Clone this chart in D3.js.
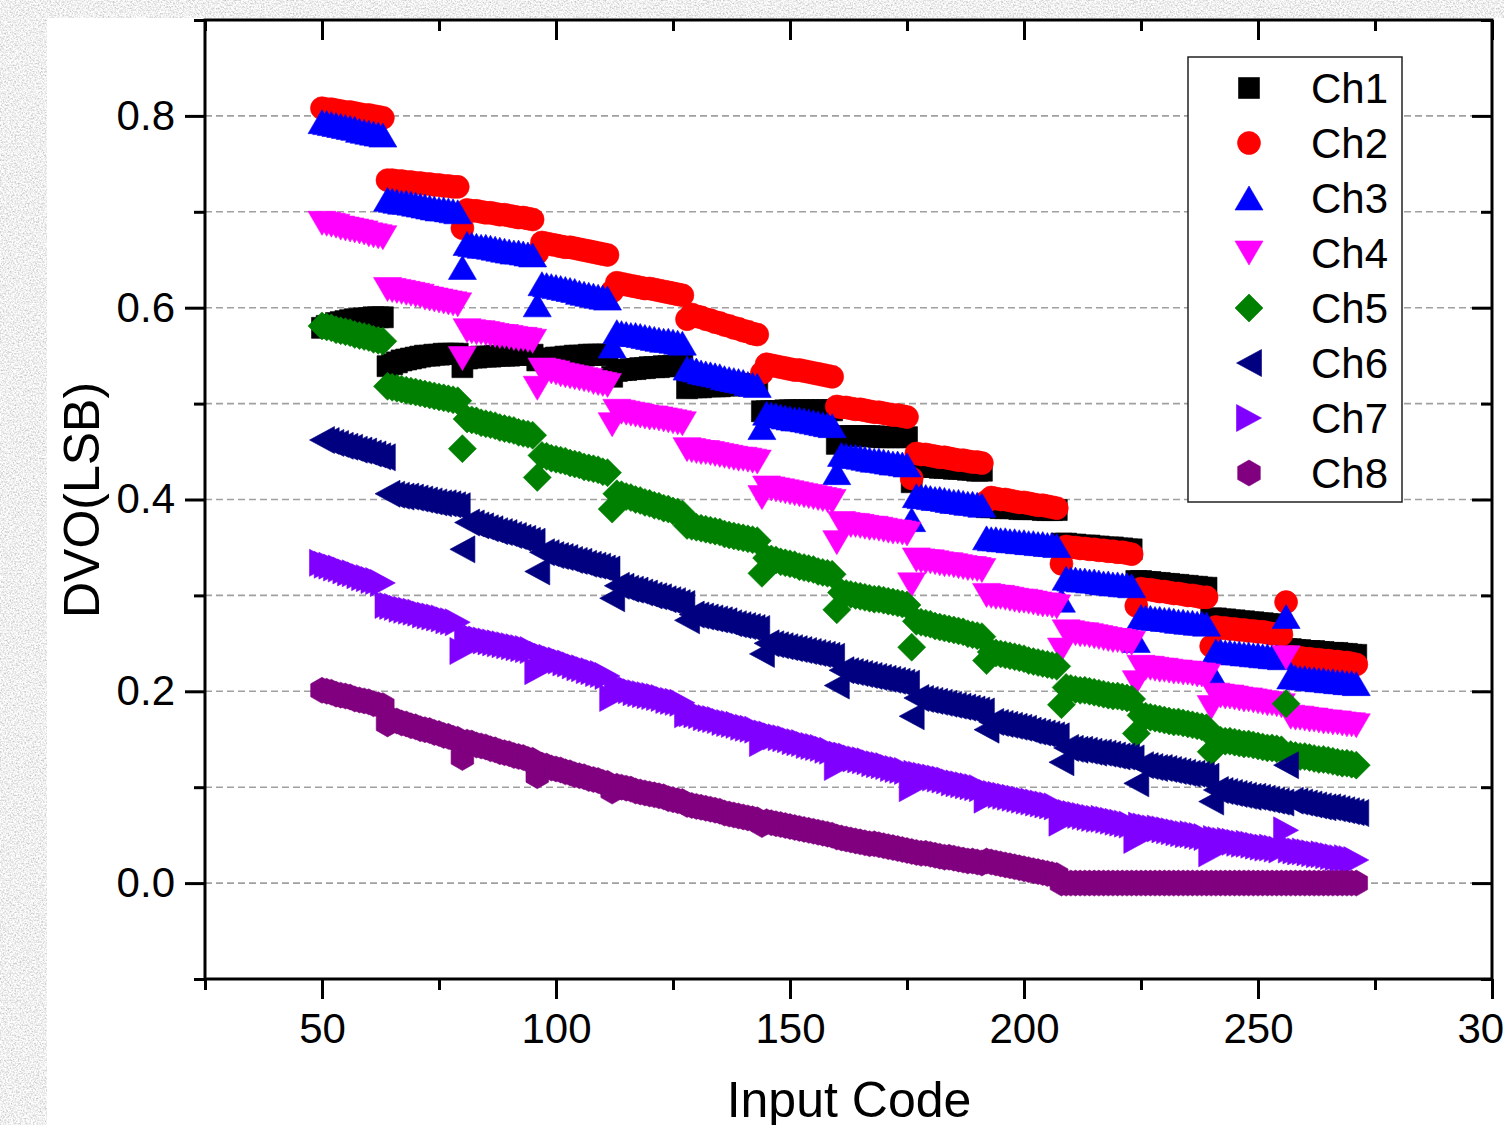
<!DOCTYPE html>
<html>
<head>
<meta charset="utf-8">
<script src="https://cdn.jsdelivr.net/npm/d3@7"></script>
<style>
  html, body { margin: 0; padding: 0; overflow: hidden; background: #fff; }
  svg { display: block; }
  text { font-family: "Liberation Sans", Arial, sans-serif; fill: #000; }
</style>
</head>
<body>
<div id="chart"></div>
<script>
// Input codes on the x axis (one point per code)
const inputCodes = d3.range(50, 272);

// DVO, in thousandths of an LSB.
// First line = codes 50..63, then one line per 16-code segment (64..79, 80..95, ...)
const ch1 = [
  579,581,582,584,585,586,587,588,588,589,589,590,590,590,
  539,541,543,545,546,547,548,549,550,550,551,551,552,552,552,552,
  538,547,548,548,549,549,549,550,550,550,550,551,551,551,551,551,
  545,546,547,547,548,548,549,549,550,550,550,551,551,551,551,551,
  528,534,535,535,536,536,537,537,538,538,538,539,539,539,540,540,
  516,517,517,517,518,518,518,518,519,519,519,519,520,520,520,520,
  492,492,492,492,492,493,493,493,493,493,493,493,493,493,493,493,
  458,466,466,466,466,466,466,466,466,465,465,465,465,465,465,465,
  418,435,435,434,434,434,433,433,433,432,432,432,431,431,430,430,
  392,392,392,391,391,391,391,390,390,390,390,390,389,389,389,389,
  354,354,353,353,352,352,352,351,351,350,350,350,349,349,348,348,
  315,315,314,314,313,313,312,312,311,311,310,310,309,309,308,308,
  276,276,275,275,274,274,273,273,272,272,271,271,270,270,269,269,
  244,244,243,243,242,242,242,241,241,240,240,240,239,239,238,238
];
const ch2 = [
  808,807,807,806,805,804,804,803,802,801,801,800,799,798,
  733,733,732,732,731,731,730,730,729,729,728,728,727,727,726,726,
  683,702,701,701,700,699,699,698,697,697,696,695,694,694,693,692,
  657,668,667,666,665,664,663,663,662,661,660,659,658,657,656,655,
  617,626,625,624,623,622,621,620,620,619,618,617,616,615,614,613,
  588,593,591,590,588,587,585,584,582,581,579,578,576,575,573,572,
  532,541,540,539,538,537,536,535,535,534,533,532,531,530,529,528,
  497,496,496,495,494,494,493,492,491,491,490,489,488,488,487,486,
  422,448,447,447,446,445,444,444,443,442,441,441,440,439,439,438,
  398,402,401,400,400,399,398,397,397,396,395,394,394,393,392,391,
  333,351,350,350,349,349,348,348,347,347,346,346,345,345,344,343,
  289,307,306,306,305,304,304,303,302,302,301,300,300,299,298,298,
  247,267,266,266,265,265,264,264,263,263,262,262,261,260,260,259,
  293,236,235,235,234,234,233,233,232,232,231,231,230,230,229,228
];
const ch3 = [
  794,793,792,791,790,789,788,787,785,784,783,782,781,780,
  713,712,711,710,710,709,708,707,706,705,704,703,703,702,701,700,
  642,667,666,665,664,664,663,662,661,660,659,658,658,657,656,655,
  603,625,624,623,622,621,620,619,618,616,615,614,613,612,611,610,
  560,575,574,573,572,572,571,570,569,568,567,566,566,565,564,563,
  537,536,535,533,532,531,530,529,527,526,525,524,523,521,520,519,
  475,490,489,488,487,486,485,484,484,483,482,481,480,479,478,477,
  428,447,446,445,445,444,443,442,441,441,440,439,438,438,437,436,
  379,404,403,403,402,401,401,400,399,398,398,397,396,396,395,394,
  360,359,359,358,358,357,357,356,356,355,355,354,354,353,353,352,
  295,318,317,317,316,316,315,315,314,313,313,312,312,311,311,310,
  253,278,277,277,276,276,275,275,274,273,273,272,272,271,271,270,
  220,242,242,241,241,240,240,239,239,238,238,237,237,236,236,235,
  278,215,215,214,214,213,213,212,212,211,211,210,210,209,209,208
];
const ch4 = [
  688,687,686,685,683,682,681,680,679,678,676,675,674,673,
  619,618,617,616,615,614,613,612,610,609,608,607,606,605,604,603,
  547,576,575,574,574,573,572,571,570,570,569,568,567,567,566,565,
  516,535,534,533,532,530,529,528,527,526,525,524,522,521,520,519,
  478,492,491,490,489,488,487,486,485,485,484,483,482,481,480,479,
  452,451,450,449,449,448,447,446,445,444,443,442,442,441,440,439,
  402,412,411,410,409,408,407,406,405,404,403,402,401,400,399,398,
  355,375,374,373,373,372,371,370,370,369,368,367,366,366,365,364,
  311,337,336,335,335,334,333,332,332,331,330,329,328,328,327,326,
  300,299,298,298,297,296,295,294,294,293,292,291,290,290,289,288,
  243,262,261,260,259,259,258,257,256,255,254,253,253,252,251,250,
  209,225,224,224,223,222,222,221,220,220,219,219,218,217,217,216,
  183,196,195,194,194,193,192,191,191,190,189,188,187,187,186,185,
  235,173,172,172,171,170,170,169,168,168,167,167,166,165,165,164
];
const ch5 = [
  581,580,579,577,576,575,574,572,571,570,569,567,566,565,
  518,517,516,515,514,513,512,511,510,509,508,507,506,505,504,503,
  453,484,483,482,480,479,478,477,475,474,473,472,470,469,468,467,
  423,446,445,443,442,441,440,438,437,436,434,433,432,431,429,428,
  390,406,405,403,402,400,399,397,396,394,393,391,390,388,387,385,
  373,372,371,370,369,368,367,366,364,363,362,361,360,359,358,357,
  323,339,338,337,335,334,333,332,330,329,328,327,325,324,323,322,
  285,303,302,301,300,299,298,297,296,296,295,294,293,292,291,290,
  246,273,272,271,270,268,267,266,265,264,263,262,260,259,258,257,
  232,241,240,239,238,237,236,235,234,232,231,230,229,228,227,226,
  186,204,203,202,201,201,200,199,198,197,196,195,195,194,193,192,
  156,175,174,173,172,171,170,169,168,168,167,166,165,164,163,162,
  137,150,149,148,148,147,146,145,145,144,143,142,141,141,140,139,
  187,134,133,132,132,131,130,129,129,128,127,126,125,125,124,123
];
const ch6 = [
  462,461,459,458,456,455,454,452,451,450,448,447,445,444,
  406,405,404,403,403,402,401,400,399,398,397,396,396,395,394,393,
  348,376,375,373,372,370,369,367,366,365,363,362,360,359,357,356,
  325,345,344,342,341,340,339,337,336,335,333,332,331,330,328,327,
  297,310,309,307,306,305,303,302,300,299,298,296,295,294,292,291,
  274,280,279,278,277,276,275,274,273,271,270,269,268,267,266,265,
  239,250,249,248,247,246,245,244,243,242,241,240,239,238,237,236,
  206,222,221,220,219,218,217,216,215,214,213,212,211,210,209,208,
  174,193,192,191,190,189,188,187,186,185,184,183,182,181,180,179,
  160,168,167,166,165,164,163,162,161,159,158,157,156,155,154,153,
  126,141,140,139,139,138,137,136,136,135,134,133,132,132,131,130,
  104,123,122,121,120,120,119,118,117,116,115,114,114,113,112,111,
  85,97,96,95,94,93,92,91,90,90,89,88,87,86,85,84,
  123,86,85,84,83,82,81,80,79,79,78,77,76,75,74,73
];
const ch7 = [
  334,332,331,329,328,326,324,323,321,319,318,316,315,313,
  290,289,288,286,285,284,283,282,280,279,278,277,276,274,273,272,
  242,257,256,255,254,253,252,251,250,249,248,247,246,245,244,243,
  221,238,236,235,233,232,230,229,227,225,224,222,221,219,218,216,
  193,204,203,202,201,199,198,197,196,195,194,193,191,190,189,188,
  176,177,176,175,173,172,171,170,168,167,166,165,163,162,161,160,
  146,156,155,153,152,151,150,148,147,146,144,143,142,141,139,138,
  121,134,133,132,130,129,128,127,125,124,123,122,120,119,118,117,
  99,114,113,112,111,110,109,108,107,105,104,103,102,101,100,99,
  87,94,93,92,91,90,89,88,87,86,85,84,83,82,81,80,
  63,74,73,72,71,70,69,68,67,67,66,65,64,63,62,61,
  45,60,59,58,57,57,56,55,54,53,52,51,51,50,49,48,
  31,46,45,44,44,43,42,41,41,40,39,38,37,37,36,35,
  55,35,34,33,33,32,31,30,30,29,28,27,26,26,25,24
];
const ch8 = [
  201,200,199,197,196,195,194,192,191,190,189,187,186,185,
  166,170,169,167,166,164,163,161,160,159,157,156,154,153,151,150,
  131,147,146,144,143,142,140,139,137,136,135,133,132,131,129,128,
  112,123,122,120,119,118,116,115,113,112,111,109,108,107,105,104,
  96,101,100,99,98,96,95,94,93,92,91,90,88,87,86,85,
  82,81,80,79,78,77,76,75,73,72,71,70,69,68,67,66,
  61,64,63,62,61,60,59,58,57,56,55,54,53,52,51,50,
  48,47,46,45,44,43,42,41,41,40,39,38,37,36,35,34,
  33,32,31,31,30,29,28,27,27,26,25,24,23,23,22,21,
  23,22,21,20,19,18,17,16,15,14,13,12,11,10,9,8,
  0,0,0,0,0,0,0,0,0,0,0,0,0,0,0,0,
  0,0,0,0,0,0,0,0,0,0,0,0,0,0,0,0,
  0,0,0,0,0,0,0,0,0,0,0,0,0,0,0,0,
  0,0,0,0,0,0,0,0,0,0,0,0,0,0,0,0
];

const channelNames = ["Ch1", "Ch2", "Ch3", "Ch4", "Ch5", "Ch6", "Ch7", "Ch8"];
const channelColors = ["#000000", "#ff0000", "#0000ff", "#ff00ff", "#008000", "#000080", "#8000ff", "#800080"];
const channelShapes = ["square", "circle", "triUp", "triDown", "diamond", "triLeft", "triRight", "hexagon"];
const channelValues = [ch1, ch2, ch3, ch4, ch5, ch6, ch7, ch8];

const xMajorTicks = [50, 100, 150, 200, 250, 300];
const xMinorTicks = [25, 75, 125, 175, 225, 275];
const yMajorTicks = [0.0, 0.2, 0.4, 0.6, 0.8];
const yMinorTicks = [-0.1, 0.1, 0.3, 0.5, 0.7, 0.9];
const gridValues = [0.0, 0.1, 0.2, 0.3, 0.4, 0.5, 0.6, 0.7, 0.8];

// Marker outlines, Origin style
const shapes = {
    square: "M-10.5,-10.5H10.5V10.5H-10.5Z",
    circle: d3.symbol(d3.symbolCircle, Math.PI * 11.5 * 11.5)(),
    triUp: "M0,-12L14,12L-14,12Z",
    triDown: "M-14,-12L14,-12L0,12Z",
    diamond: "M0,-14L14,0L0,14L-14,0Z",
    triLeft: "M-12.5,0L12.5,-13.5L12.5,13.5Z",
    triRight: "M12.5,0L-12.5,-13.5L-12.5,13.5Z",
    hexagon: "M0,-13L11.3,-6.5L11.3,6.5L0,13L-11.3,6.5L-11.3,-6.5Z"
};

const width = 1504;
const height = 1125;
const plot = { left: 205, right: 1492, top: 20, bottom: 979 };

const svg = d3.select("#chart")
    .append("svg")
    .attr("width", width)
    .attr("height", height);

// Textured grey page behind the white figure
const defs = svg.append("defs");
const tex = defs.append("filter").attr("id", "paper")
    .attr("x", 0).attr("y", 0).attr("width", "100%").attr("height", "100%");
tex.append("feTurbulence")
    .attr("type", "fractalNoise")
    .attr("baseFrequency", 0.6)
    .attr("numOctaves", 3)
    .attr("seed", 7);
tex.append("feColorMatrix")
    .attr("type", "matrix")
    .attr("values", "0.9 0 0 0 0.42  0.9 0 0 0 0.42  0.9 0 0 0 0.42  0 0 0 0 1");

svg.append("rect")
    .attr("width", width).attr("height", height)
    .attr("filter", "url(#paper)");

svg.append("rect")
    .attr("x", 47).attr("y", 18)
    .attr("width", width - 47).attr("height", height - 18)
    .attr("fill", "#fff");

const x = d3.scaleLinear().domain([25, 300]).range([plot.left, plot.right]);
const y = d3.scaleLinear().domain([-0.1, 0.9]).range([plot.bottom, plot.top]);

// Dashed grid lines
svg.append("g")
    .selectAll("line")
    .data(gridValues)
    .enter().append("line")
    .attr("x1", plot.left).attr("x2", plot.right)
    .attr("y1", d => y(d)).attr("y2", d => y(d))
    .attr("stroke", "#a0a0a0")
    .attr("stroke-width", 1.6)
    .attr("stroke-dasharray", "7,4");

// Scatter points, one group per channel, later channels on top
channelValues.forEach((vals, i) => {
    svg.append("g")
        .selectAll("path")
        .data(vals.map((v, k) => ({ code: inputCodes[k], v: v / 1000 })))
        .enter().append("path")
        .attr("d", shapes[channelShapes[i]])
        .attr("transform", d => `translate(${x(d.code)},${y(d.v)})`)
        .attr("fill", channelColors[i])
        .attr("stroke", channelColors[i])
        .attr("stroke-width", 0.6);
});

// Axes
function styleAxis(g) {
    g.select(".domain").remove();
    g.selectAll(".tick line").attr("stroke", "#000").attr("stroke-width", 3);
    g.selectAll(".tick text").style("font-size", "42px").attr("fill", "#000");
}

svg.append("g")
    .attr("transform", `translate(0,${plot.bottom})`)
    .call(d3.axisBottom(x).tickValues(xMajorTicks).tickSize(20).tickPadding(14).tickFormat(d3.format("d")))
    .call(styleAxis);
svg.append("g")
    .attr("transform", `translate(0,${plot.bottom})`)
    .call(d3.axisBottom(x).tickValues(xMinorTicks).tickSize(11).tickFormat(""))
    .call(styleAxis);

svg.append("g")
    .attr("transform", `translate(${plot.left},0)`)
    .call(d3.axisLeft(y).tickValues(yMajorTicks).tickSize(20).tickPadding(10).tickFormat(d3.format(".1f")))
    .call(styleAxis);
svg.append("g")
    .attr("transform", `translate(${plot.left},0)`)
    .call(d3.axisLeft(y).tickValues(yMinorTicks).tickSize(11).tickFormat(""))
    .call(styleAxis);

// top and right: inward ticks, no labels
svg.append("g")
    .attr("transform", `translate(0,${plot.top})`)
    .call(d3.axisTop(x).tickValues(xMajorTicks).tickSize(-20).tickFormat(""))
    .call(styleAxis);
svg.append("g")
    .attr("transform", `translate(0,${plot.top})`)
    .call(d3.axisTop(x).tickValues(xMinorTicks).tickSize(-11).tickFormat(""))
    .call(styleAxis);
svg.append("g")
    .attr("transform", `translate(${plot.right},0)`)
    .call(d3.axisRight(y).tickValues(yMajorTicks).tickSize(-20).tickFormat(""))
    .call(styleAxis);
svg.append("g")
    .attr("transform", `translate(${plot.right},0)`)
    .call(d3.axisRight(y).tickValues(yMinorTicks).tickSize(-11).tickFormat(""))
    .call(styleAxis);

// Frame
svg.append("rect")
    .attr("x", plot.left).attr("y", plot.top)
    .attr("width", plot.right - plot.left)
    .attr("height", plot.bottom - plot.top)
    .attr("fill", "none")
    .attr("stroke", "#000")
    .attr("stroke-width", 3);

// Axis titles
svg.append("text")
    .attr("x", 849).attr("y", 1117)
    .attr("text-anchor", "middle")
    .style("font-size", "50px")
    .text("Input Code");

svg.append("text")
    .attr("transform", "translate(99,500) rotate(-90)")
    .attr("text-anchor", "middle")
    .style("font-size", "50px")
    .text("DVO(LSB)");

// Legend
const legend = svg.append("g");
legend.append("rect")
    .attr("x", 1188).attr("y", 57)
    .attr("width", 214).attr("height", 445)
    .attr("fill", "#fff")
    .attr("stroke", "#222")
    .attr("stroke-width", 1.5);

const legendRow = legend.selectAll(".row")
    .data(channelNames)
    .enter().append("g")
    .attr("class", "row")
    .attr("transform", (d, i) => `translate(0,${88 + i * 55})`);

legendRow.append("path")
    .attr("d", (d, i) => shapes[channelShapes[i]])
    .attr("transform", "translate(1249,0)")
    .attr("fill", (d, i) => channelColors[i])
    .attr("stroke", (d, i) => channelColors[i])
    .attr("stroke-width", 0.6);

legendRow.append("text")
    .attr("x", 1311).attr("y", 15)
    .style("font-size", "42px")
    .text(d => d);
</script>
</body>
</html>
